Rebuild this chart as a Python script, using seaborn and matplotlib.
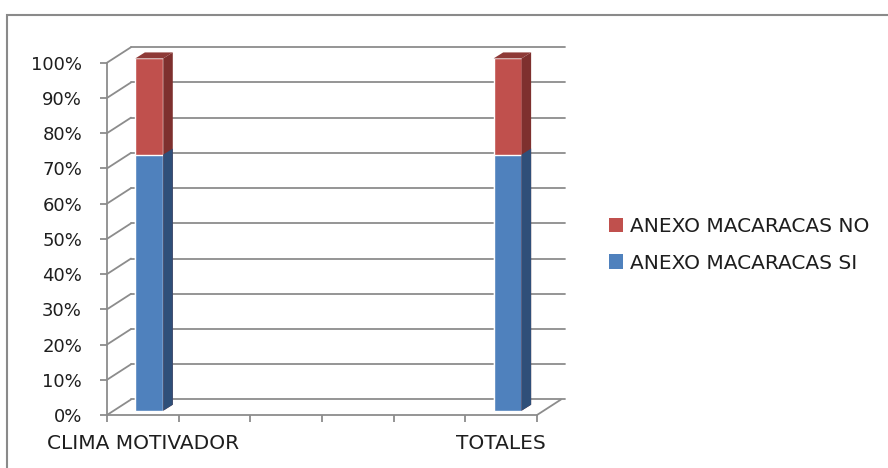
import numpy as np
import pandas as pd
import matplotlib
matplotlib.use("Agg")
import matplotlib.pyplot as plt
import seaborn as sns
from matplotlib.patches import Polygon, Patch, Rectangle

sns.set_style("white")
plt.rcParams["font.family"] = ["DejaVu Sans"]

# data
categorias = ["CLIMA MOTIVADOR", "TOTALES"]
slots = ["CLIMA MOTIVADOR", "s2", "s3", "s4", "s5", "TOTALES"]  # 6 category slots on the axis
si = [72.7, 72.7]
no = [27.3, 27.3]
yticks = list(range(0, 101, 10))
ytick_labels = [f"{v}%" for v in yticks]
series = ["ANEXO MACARACAS NO", "ANEXO MACARACAS SI"]

df = pd.DataFrame({"categoria": categorias, "SI": si, "NO": no})
df["total"] = df["SI"] + df["NO"]

RED, RED_SIDE, RED_TOP = "#C0504D", "#7E302E", "#8E3A37"
BLUE, BLUE_SIDE = "#4F81BD", "#2F4F79"
GRID = "#8C8C8C"

fig = plt.figure(figsize=(8.88, 4.68), dpi=100)
ax = fig.add_axes([107 / 888, 1 - 415 / 468, 430 / 888, (415 - 62.7) / 468])

sns.barplot(data=df, x="categoria", y="total", order=slots, color=RED,
            saturation=1, width=0.39, errorbar=None, ax=ax, zorder=3)
n_red = len(ax.patches)
sns.barplot(data=df, x="categoria", y="SI", order=slots, color=BLUE,
            saturation=1, width=0.39, errorbar=None, ax=ax, zorder=3)

ax.set_xlim(-0.5, len(slots) - 0.5)
ax.set_ylim(0, 100)

# 3D look: back wall offset, bar position in depth, bar depth
wall_dx, wall_dy = 0.335, 4.4
bar_dx, bar_dy = 0.09, 1.22
dep_dx, dep_dy = 0.133, 1.7

x0, x1 = ax.get_xlim()
for y in yticks:
    ax.plot([x0 + wall_dx, x1 + wall_dx + 0.05], [y + wall_dy, y + wall_dy],
            color=GRID, lw=1.3, clip_on=False, zorder=1)
    ax.plot([x0, x0 + wall_dx], [y, y + wall_dy],
            color=GRID, lw=1.3, clip_on=False, zorder=1)
ax.plot([x1, x1 + wall_dx], [0, wall_dy], color=GRID, lw=1.3, clip_on=False, zorder=1)

patches = list(ax.patches)
for i, p in enumerate(patches):
    if p.get_height() == 0 or np.isnan(p.get_height()):
        continue
    p.set_x(p.get_x() + bar_dx)
    p.set_y(p.get_y() + bar_dy)
    p.set_clip_on(False)
    bx, by, bw, bh = p.get_x(), p.get_y(), p.get_width(), p.get_height()
    side_c = RED_SIDE if i < n_red else BLUE_SIDE
    side = Polygon([(bx + bw, by), (bx + bw, by + bh),
                    (bx + bw + dep_dx, by + bh + dep_dy), (bx + bw + dep_dx, by + dep_dy)],
                   closed=True, facecolor=side_c, edgecolor="none", zorder=3,
                   clip_on=False)
    ax.add_patch(side)
    if i < n_red:
        top = Polygon([(bx, by + bh), (bx + bw, by + bh),
                       (bx + bw + dep_dx, by + bh + dep_dy), (bx + dep_dx, by + bh + dep_dy)],
                      closed=True, facecolor=RED_TOP, edgecolor="none", zorder=3,
                      clip_on=False)
        ax.add_patch(top)

# axes
for s in ["top", "right"]:
    ax.spines[s].set_visible(False)
for s in ["left", "bottom"]:
    ax.spines[s].set_color(GRID)
    ax.spines[s].set_linewidth(1.3)

ax.set_yticks(yticks)
ax.set_yticklabels(ytick_labels)
ax.tick_params(axis="y", direction="out", length=5, width=1.3, color=GRID,
               pad=13, labelsize=13, labelcolor="#1e1e1e", left=True)
ax.set_xticks(np.arange(-0.5, len(slots), 1))
ax.set_xticklabels([])
ax.tick_params(axis="x", which="major", direction="out", length=5, width=1.3,
               color=GRID, bottom=True)
ax.set_xticks([slots.index(c) for c in categorias], minor=True)
ax.set_xticklabels(categorias, minor=True)
ax.tick_params(axis="x", which="minor", length=0, pad=14, labelsize=14.5,
               labelcolor="#1e1e1e")
ax.set_xlabel("")
ax.set_ylabel("")
ax.grid(False)

handles = [Patch(facecolor=RED, edgecolor="none"), Patch(facecolor=BLUE, edgecolor="none")]
fig.legend(handles, series, loc="center left", bbox_to_anchor=(609 / 888, 1 - 245 / 468),
           frameon=False, fontsize=14.5, handlelength=0.7, handleheight=0.7,
           handletextpad=0.35, labelspacing=0.85, borderpad=0, borderaxespad=0,
           labelcolor="#1e1e1e")

# chart border (only left and top edges visible in the crop)
fig.add_artist(Rectangle((7 / 888, -0.2), 1.2, 1.2 - 15 / 468,
                         transform=fig.transFigure, fill=False,
                         edgecolor="#8a8a8a", lw=1.5))

fig.savefig("out.png", dpi=100, facecolor="white")
